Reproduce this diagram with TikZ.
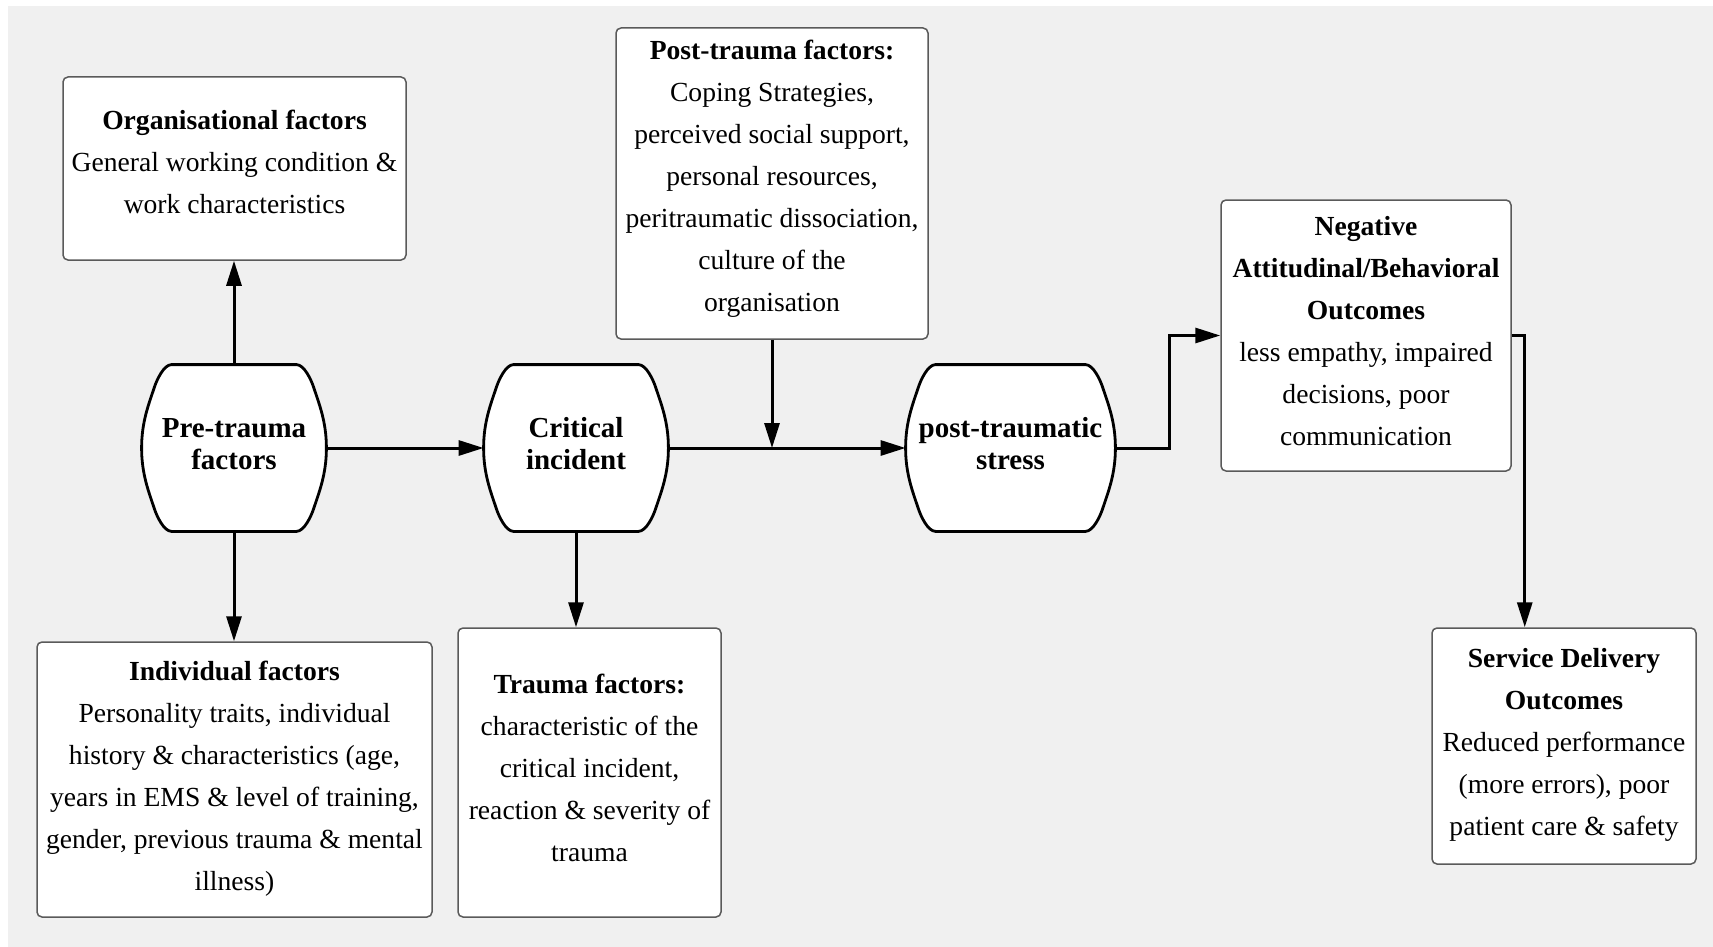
\documentclass[tikz,border=0pt]{standalone}
\usepackage{fontspec}
\setmainfont{Liberation Serif}
\usetikzlibrary{arrows.meta,backgrounds}

\definecolor{canvas}{HTML}{F0F0F0}
\definecolor{boxline}{HTML}{5A5A5A}

\tikzset{
  infobox/.style={draw=boxline, line width=0.75pt, fill=white, rounded corners=2.5pt,
    align=center, inner sep=0pt, font=\fontsize{13.8}{21}\selectfont},
  stage/.style={inner sep=0pt, align=center, font=\bfseries\fontsize{14.5}{16}\selectfont},
  stageline/.style={draw=black, line width=1.4pt, fill=white},
  flow/.style={line width=1.5pt, -{Triangle[length=12.5pt,width=7.5pt]}},
}

% extra depth under the last line, lifting the text block a little
\newcommand{\lift}[1]{\rule[-#1]{0pt}{0pt}}

% outline of a stage node: flat top and bottom, rounded corners, bulging sides
\newcommand{\barrelpath}[1]{%
  \path[stageline]
    ([xshift=15pt]#1.north west) -- ([xshift=-15pt]#1.north east)
    .. controls ([xshift=-11pt]#1.north east) and ([xshift=-7.5pt,yshift=-8pt]#1.north east) .. ([xshift=-6.5pt,yshift=-11pt]#1.north east)
    .. controls ([xshift=-3.5pt,yshift=-20pt]#1.north east) and ([yshift=13pt]#1.east) .. (#1.east)
    .. controls ([yshift=-13pt]#1.east) and ([xshift=-3.5pt,yshift=20pt]#1.south east) .. ([xshift=-6.5pt,yshift=11pt]#1.south east)
    .. controls ([xshift=-7.5pt,yshift=8pt]#1.south east) and ([xshift=-11pt]#1.south east) .. ([xshift=-15pt]#1.south east)
    -- ([xshift=15pt]#1.south west)
    .. controls ([xshift=11pt]#1.south west) and ([xshift=7.5pt,yshift=8pt]#1.south west) .. ([xshift=6.5pt,yshift=11pt]#1.south west)
    .. controls ([xshift=3.5pt,yshift=20pt]#1.south west) and ([yshift=-13pt]#1.west) .. (#1.west)
    .. controls ([yshift=13pt]#1.west) and ([xshift=3.5pt,yshift=-20pt]#1.north west) .. ([xshift=6.5pt,yshift=-11pt]#1.north west)
    .. controls ([xshift=7.5pt,yshift=-8pt]#1.north west) and ([xshift=11pt]#1.north west) .. ([xshift=15pt]#1.north west)
    -- cycle;}

\begin{document}
\begin{tikzpicture}[x=0.5pt,y=-0.5pt]
\useasboundingbox (0,0) rectangle (1713,947);
\begin{scope}[on background layer]
  \fill[white] (0,0) rectangle (1713,947);
  \fill[canvas] (8,6) rectangle (1713,947);
\end{scope}

% stages along the main line
\node[stage, minimum width=92pt, minimum height=83pt] (pre) at (234,448) {Pre-trauma\\factors\lift{4.4pt}};
\node[stage, minimum width=92pt, minimum height=83pt] (crit) at (576,448) {Critical\\incident\lift{4.4pt}};
\node[stage, minimum width=104.5pt, minimum height=83pt] (pts) at (1010.5,448) {post-traumatic\\stress\lift{4.4pt}};

\begin{scope}[on background layer]
  \barrelpath{pre}
  \barrelpath{crit}
  \barrelpath{pts}
\end{scope}

% factor and outcome boxes
\node[infobox, minimum width=171.5pt, minimum height=91.5pt] (org) at (234.5,168.5)
  {\textbf{Organisational factors}\\General working condition \&\\work characteristics\lift{6.6pt}};
\node[infobox, minimum width=156pt, minimum height=155.5pt] (post) at (772,183.5)
  {\textbf{Post-trauma factors:}\\Coping Strategies,\\perceived social support,\\personal resources,\\peritraumatic dissociation,\\culture of the\\organisation\lift{8pt}};
\node[infobox, minimum width=145pt, minimum height=135.5pt] (neg) at (1366,335.5)
  {\textbf{Negative}\\\textbf{Attitudinal/Behavioral}\\\textbf{Outcomes}\\less empathy, impaired\\decisions, poor\\communication\lift{5pt}};
\node[infobox, minimum width=132pt, minimum height=118pt] (svc) at (1564,746)
  {\textbf{Service Delivery}\\\textbf{Outcomes}\\Reduced performance\\(more errors), poor\\patient care \& safety\lift{4pt}};
\node[infobox, minimum width=197.5pt, minimum height=137.5pt] (ind) at (234.5,779.5)
  {\textbf{Individual factors}\\Personality traits, individual\\history \& characteristics (age,\\years in EMS \& level of training,\\gender, previous trauma \& mental\\illness)\lift{4pt}};
\node[infobox, minimum width=131.5pt, minimum height=144.5pt] (trauma) at (589.5,772.5)
  {\textbf{Trauma factors:}\\characteristic of the\\critical incident,\\reaction \& severity of\\trauma\lift{4.4pt}};

% connectors
\draw[flow] (pre.north) -- (pre.north |- org.south);
\draw[flow] (pre.south) -- (pre.south |- ind.north);
\draw[flow] (pre.east) -- (crit.west);
\draw[flow] (crit.south) -- (crit.south |- trauma.north);
\draw[flow] (crit.east) -- (pts.west);
\coordinate (join) at (post.south |- crit.east);
\draw[flow] (post.south) -- (join);
\draw[flow] (pts.east) -- ++(27pt,0) |- (neg.west);
\draw[flow] (neg.east) -- ++(6.5pt,0) coordinate (drop) -- (drop |- svc.north);
\end{tikzpicture}
\end{document}
